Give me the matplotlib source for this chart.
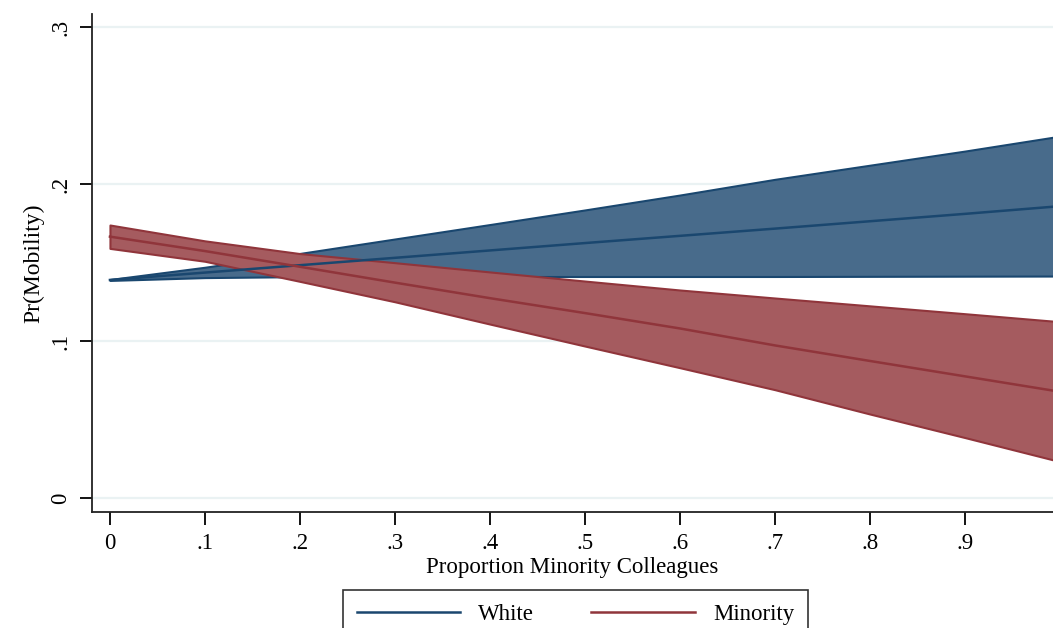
import matplotlib
matplotlib.use("Agg")
import matplotlib.pyplot as plt
import numpy as np

# Margins grid: proportion of minority colleagues
x_grid = [0.0, 0.1, 0.2, 0.3, 0.4, 0.5, 0.6, 0.7, 0.8, 0.9, 1.0]

# White employees: predicted Pr(Mobility) and 95% CI
white_est = [0.1389, 0.1436, 0.1483, 0.1530, 0.1577, 0.1624, 0.1670, 0.1716, 0.1763, 0.1810, 0.1859]
white_hi = [0.1392, 0.1470, 0.1558, 0.1650, 0.1742, 0.1835, 0.1930, 0.2030, 0.2120, 0.2210, 0.2305]
white_lo = [0.1386, 0.1404, 0.1410, 0.1411, 0.1411, 0.1411, 0.1411, 0.1411, 0.1412, 0.1413, 0.1414]

# Minority employees
minority_est = [0.1665, 0.1573, 0.1473, 0.1372, 0.1273, 0.1178, 0.1080, 0.0972, 0.0873, 0.0775, 0.0677]
minority_hi = [0.1739, 0.1638, 0.1557, 0.1499, 0.1440, 0.1382, 0.1325, 0.1274, 0.1224, 0.1174, 0.1123]
minority_lo = [0.1590, 0.1508, 0.1380, 0.1250, 0.1108, 0.0968, 0.0830, 0.0690, 0.0535, 0.0385, 0.0232]

x_ticks = [0, .1, .2, .3, .4, .5, .6, .7, .8, .9]
x_ticklabels = ["0", ".1", ".2", ".3", ".4", ".5", ".6", ".7", ".8", ".9"]
y_ticks = [0, .1, .2, .3]
y_ticklabels = ["0", ".1", ".2", ".3"]

plt.rcParams["font.family"] = ["Liberation Serif", "DejaVu Serif"]

navy = "#1a476f"
navy_fill = "#486b8b"
maroon = "#90353b"
maroon_fill = "#a55b5f"
grid_col = "#eaf2f3"

fig = plt.figure(figsize=(10.53, 6.28), dpi=100)
ax = fig.add_axes([92 / 1053, 1 - 512 / 628, 1 - 92 / 1053, 498 / 628])

for yv in y_ticks:
    ax.axhline(yv, color=grid_col, lw=1.6, zorder=0)

ax.fill_between(x_grid, white_lo, white_hi, facecolor=navy_fill,
                edgecolor=navy, lw=1.5, zorder=2)
ax.fill_between(x_grid, minority_lo, minority_hi, facecolor=maroon_fill,
                edgecolor=maroon, lw=1.5, zorder=3)
ax.plot(x_grid, white_est, color=navy, lw=1.8, zorder=4, label="White")
ax.plot(x_grid, minority_est, color=maroon, lw=1.8, zorder=5, label="Minority")

ax.set_xlim(-0.0189, 0.9926)
ax.set_ylim(-0.0089, 0.3083)

ax.set_xticks(x_ticks)
ax.set_xticklabels(x_ticklabels)
ax.set_yticks(y_ticks)
ax.set_yticklabels(y_ticklabels, rotation=90, va="center")

ax.tick_params(axis="both", direction="out", length=9, width=1.3,
               labelsize=16.5, colors="black")
ax.tick_params(axis="x", pad=6)
ax.tick_params(axis="y", pad=6)

for side in ["top", "right"]:
    ax.spines[side].set_visible(False)
for side in ["left", "bottom"]:
    ax.spines[side].set_linewidth(1.3)
    ax.spines[side].set_color("#222222")

ax.set_xlabel("Proportion Minority Colleagues", fontsize=16.5, labelpad=2)
ax.set_ylabel("Pr(Mobility)", fontsize=17, labelpad=4)

fig.legend(loc="upper left", bbox_to_anchor=(343 / 1053, 1 - 590 / 628),
           ncol=2, frameon=True, fancybox=False, edgecolor="black",
           fontsize=16.5, handlelength=4.5, handletextpad=0.8,
           columnspacing=2.5, borderpad=0.6, borderaxespad=0)
leg = fig.legends[0]
leg.get_frame().set_linewidth(1.2)

fig.savefig("out.png", dpi=100, facecolor="white")
